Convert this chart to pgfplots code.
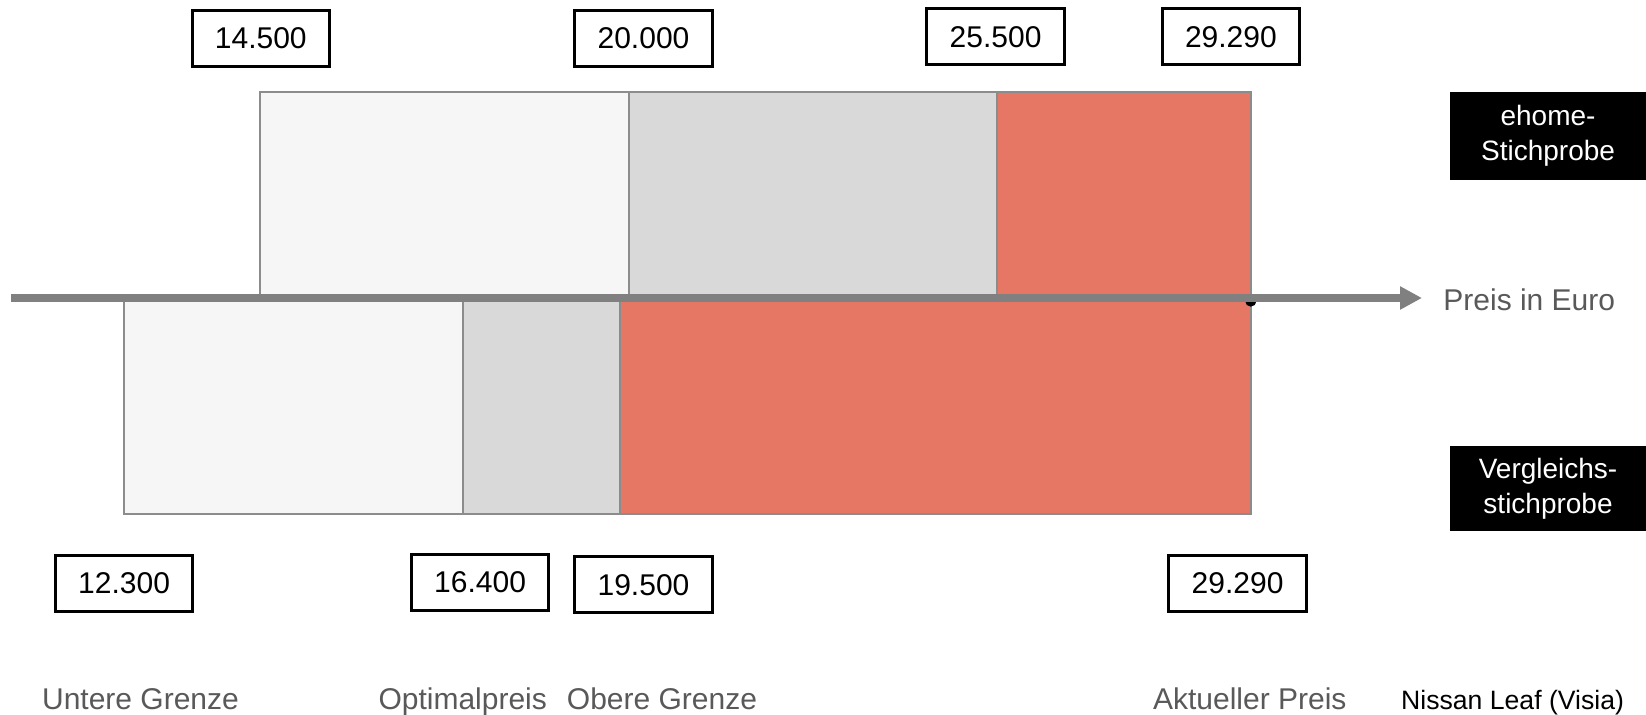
\documentclass[border=0pt]{standalone}
\usepackage{pgfplots}
\pgfplotsset{compat=1.18}
\usepackage{fontspec}
\setmainfont{Liberation Sans}
\usetikzlibrary{arrows.meta}
\definecolor{barlight}{HTML}{F6F6F6}
\definecolor{barmid}{HTML}{D9D9D9}
\definecolor{barred}{HTML}{E57764}
\definecolor{edgegray}{HTML}{8C8C8C}
\definecolor{axisgray}{HTML}{808080}
\definecolor{lblgray}{HTML}{595959}
\begin{document}
\begin{tikzpicture}
\useasboundingbox (0,0) rectangle (823pt,357pt);
\begin{axis}[at={(0,0)}, anchor=south west, width=823pt, height=357pt,
  scale only axis, xmin=10613, xmax=35191, ymin=0, ymax=714, y dir=reverse,
  hide axis, clip=false]
% ehome-Stichprobe (top bar)
\addplot[fill=barlight, draw=edgegray, line width=0.9pt, mark=none] coordinates {(14500,91.7) (20000,91.7) (20000,296) (14500,296)} -- cycle;
\addplot[fill=barmid, draw=edgegray, line width=0.9pt, mark=none] coordinates {(20000,91.7) (25500,91.7) (25500,296) (20000,296)} -- cycle;
\addplot[fill=barred, draw=edgegray, line width=0.9pt, mark=none] coordinates {(25500,91.7) (29290,91.7) (29290,296) (25500,296)} -- cycle;
% Vergleichsstichprobe (bottom bar)
\addplot[fill=barlight, draw=edgegray, line width=0.9pt, mark=none] coordinates {(12466,298) (17527,298) (17527,514) (12466,514)} -- cycle;
\addplot[fill=barmid, draw=edgegray, line width=0.9pt, mark=none] coordinates {(17527,298) (19865,298) (19865,514) (17527,514)} -- cycle;
\addplot[fill=barred, draw=edgegray, line width=0.9pt, mark=none] coordinates {(19865,298) (29290,298) (29290,514) (19865,514)} -- cycle;
% current price marker
\addplot[only marks, mark=*, mark size=2.6pt, black] coordinates {(29290,301)};
\end{axis}
\begin{scope}[x=0.5pt, y=-0.5pt, shift={(0pt,357pt)}]
\draw[axisgray, line width=3.65pt, -{Triangle[length=11pt,width=11pt]}] (11,298) -- (1422,298);
\tikzset{numbox/.style={draw=black, line width=1.5pt, fill=white, minimum width=68.75pt,
  minimum height=28pt, inner sep=0pt, font=\fontsize{15}{18}\selectfont},
  lbl/.style={text=lblgray, font=\fontsize{15}{18}\selectfont, inner sep=0pt},
  blackbox/.style={fill=black, text=white, align=center, inner sep=0pt,
  minimum width=98.35pt, font=\fontsize{14}{17.5}\selectfont, anchor=north west}}
\node[numbox] at (260.8,38.5) {14.500};
\node[numbox] at (643.5,38.5) {20.000};
\node[numbox] at (995.6,36.7) {25.500};
\node[numbox] at (1230.9,36.7) {29.290};
\node[numbox] at (124.1,583.6) {12.300};
\node[numbox] at (480.1,582.6) {16.400};
\node[numbox] at (643.5,584.7) {19.500};
\node[numbox] at (1237.6,583.3) {29.290};
\node[lbl, anchor=base west] at (1443,310.7) {Preis in Euro};
\node[blackbox, minimum height=43.8pt] at (1449.3,91.7) {ehome-\\Stichprobe};
\node[blackbox, minimum height=42.5pt] at (1449.3,445.7) {Vergleichs-\\stichprobe};
\node[lbl, anchor=base] at (140.5,709.5) {Untere Grenze};
\node[lbl, anchor=base] at (462.7,709.5) {Optimalpreis};
\node[lbl, anchor=base] at (662,709.5) {Obere Grenze};
\node[lbl, anchor=base] at (1249.8,709.5) {Aktueller Preis};
\node[inner sep=0pt, anchor=base, font=\fontsize{13.3}{16}\selectfont] at (1512.6,709) {Nissan Leaf (Visia)};
\end{scope}
\end{tikzpicture}
\end{document}
